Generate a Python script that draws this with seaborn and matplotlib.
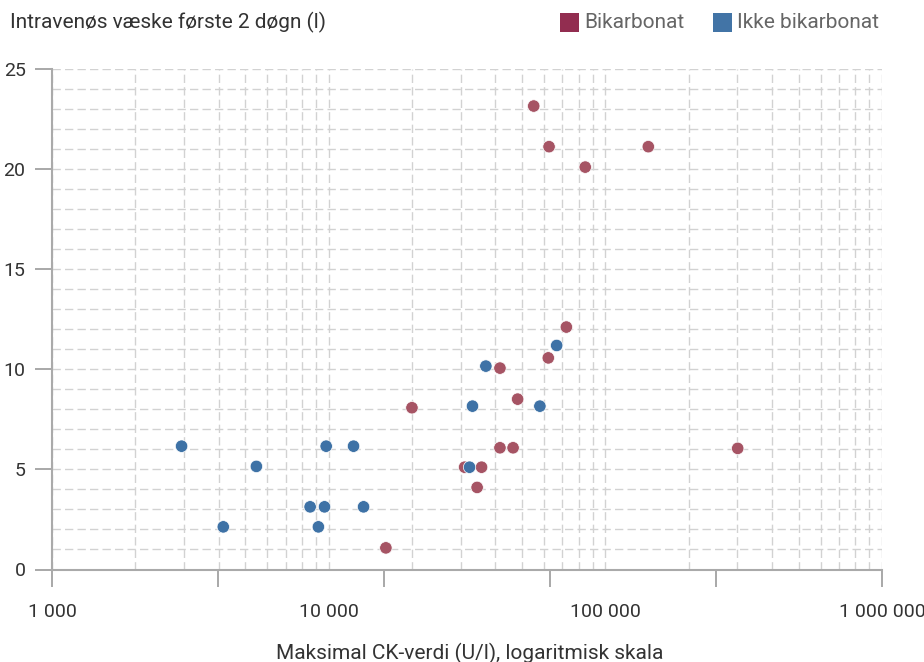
import numpy as np
import pandas as pd
import matplotlib
matplotlib.use("Agg")
import matplotlib.pyplot as plt
import seaborn as sns
from matplotlib.ticker import FixedLocator, LogLocator, FuncFormatter, MultipleLocator, NullFormatter
from matplotlib.patches import Rectangle

# ----------------------------------------------------------
# DATA
# ----------------------------------------------------------

bik_ck = [16100, 62200, 41600, 48200, 20000, 41600, 46400, 31000,
          35700, 34400, 55100, 62600, 143000, 84600, 300900, 72300]
bik_fluid = [1.08, 10.57, 10.06, 8.51, 8.08, 6.08, 6.08, 5.11,
             5.11, 4.10, 23.15, 21.12, 21.12, 20.10, 6.05, 12.11]

ikke_ck = [2940, 9795, 12300, 5480, 8570, 9660, 13370, 4160,
           9180, 66700, 37000, 33100, 58000, 32300]
ikke_fluid = [6.16, 6.16, 6.16, 5.15, 3.13, 3.13, 3.13, 2.13,
              2.13, 11.19, 10.16, 8.16, 8.16, 5.11]

groups = ["Bikarbonat", "Ikke bikarbonat"]
x_tick_marks = [3.0, 3.6, 4.2, 4.8, 5.4, 6.0]
decade_labels = {1000: "1 000", 10000: "10 000", 100000: "100 000", 1000000: "1 000 000"}

df = pd.DataFrame({
    "ck": bik_ck + ikke_ck,
    "fluid": bik_fluid + ikke_fluid,
    "group": [groups[0]] * len(bik_ck) + [groups[1]] * len(ikke_ck),
})

point_colors = {"Bikarbonat": "#a65464", "Ikke bikarbonat": "#3e72a6"}
legend_colors = {"Bikarbonat": "#922d50", "Ikke bikarbonat": "#4274a6"}

# ----------------------------------------------------------
# PLOT
# ----------------------------------------------------------

sns.set_style("white")
plt.rcParams["font.family"] = ["Roboto", "DejaVu Sans"]

fig = plt.figure(figsize=(9.24, 6.62), dpi=100)
ax = fig.add_axes([52 / 924, 1 - 569.5 / 662, 830 / 924, 500.5 / 662])

sns.scatterplot(
    data=df,
    x="ck",
    y="fluid",
    hue="group",
    palette=point_colors,
    s=80,
    edgecolor="white",
    linewidth=0.5,
    legend=False,
    zorder=3,
    ax=ax
)

ax.set_xscale("log")
ax.set_xlim(1000, 1000000)
ax.set_ylim(0, 25)

# x ticks: odd tick marks, decade labels on the minor grid
ax.xaxis.remove_overlapping_locs = False
ax.xaxis.set_major_locator(FixedLocator([10 ** v for v in x_tick_marks]))
ax.xaxis.set_major_formatter(NullFormatter())
ax.xaxis.set_minor_locator(LogLocator(base=10, subs=np.arange(1, 10), numticks=50))
ax.xaxis.set_minor_formatter(FuncFormatter(
    lambda v, p: decade_labels.get(int(round(v)), "")
))
ax.tick_params(axis="x", which="major", bottom=True, length=12, width=1.2,
               color="#999999", direction="out")
ax.tick_params(axis="x", which="minor", bottom=True, length=0, pad=24,
               labelsize=14, labelcolor="#333333")

# y ticks
ax.yaxis.set_major_locator(MultipleLocator(5))
ax.yaxis.set_minor_locator(MultipleLocator(1))
ax.tick_params(axis="y", which="major", left=True, length=12, width=1.2, color="#999999",
               direction="out", pad=7, labelsize=14, labelcolor="#333333")
ax.tick_params(axis="y", which="minor", length=0)

grid_style = dict(color="#d2d2d2", linewidth=1, linestyle=(0, (6, 3)))
ax.grid(True, which="both", axis="y", **grid_style)
ax.grid(False, which="major", axis="x")
ax.grid(True, which="minor", axis="x", **grid_style)
ax.set_axisbelow(True)

for side in ["top", "right"]:
    ax.spines[side].set_visible(False)
for side in ["left", "bottom"]:
    ax.spines[side].set_color("#aaaaaa")
    ax.spines[side].set_linewidth(1.5)

ax.set_xlabel("")
ax.set_ylabel("")

fig.text(10 / 924, 1 - 22 / 662, "Intravenøs væske første 2 døgn (l)",
         ha="left", va="center", fontsize=15, color="#333333")
fig.text(470 / 924, 1 - 653 / 662, "Maksimal CK-verdi (U/l), logaritmisk skala",
         ha="center", va="center", fontsize=15, color="#333333")

# legend
legend_x = {"Bikarbonat": 560, "Ikke bikarbonat": 713}
for g in groups:
    fig.patches.append(Rectangle(
        (legend_x[g] / 924, 1 - 32 / 662), 19 / 924, 19 / 662,
        transform=fig.transFigure, facecolor=legend_colors[g],
        edgecolor="none"
    ))
    fig.text((legend_x[g] + 24) / 924, 1 - 22 / 662, g,
             ha="left", va="center", fontsize=15, color="#666666")

plt.savefig("out.png", dpi=100)
